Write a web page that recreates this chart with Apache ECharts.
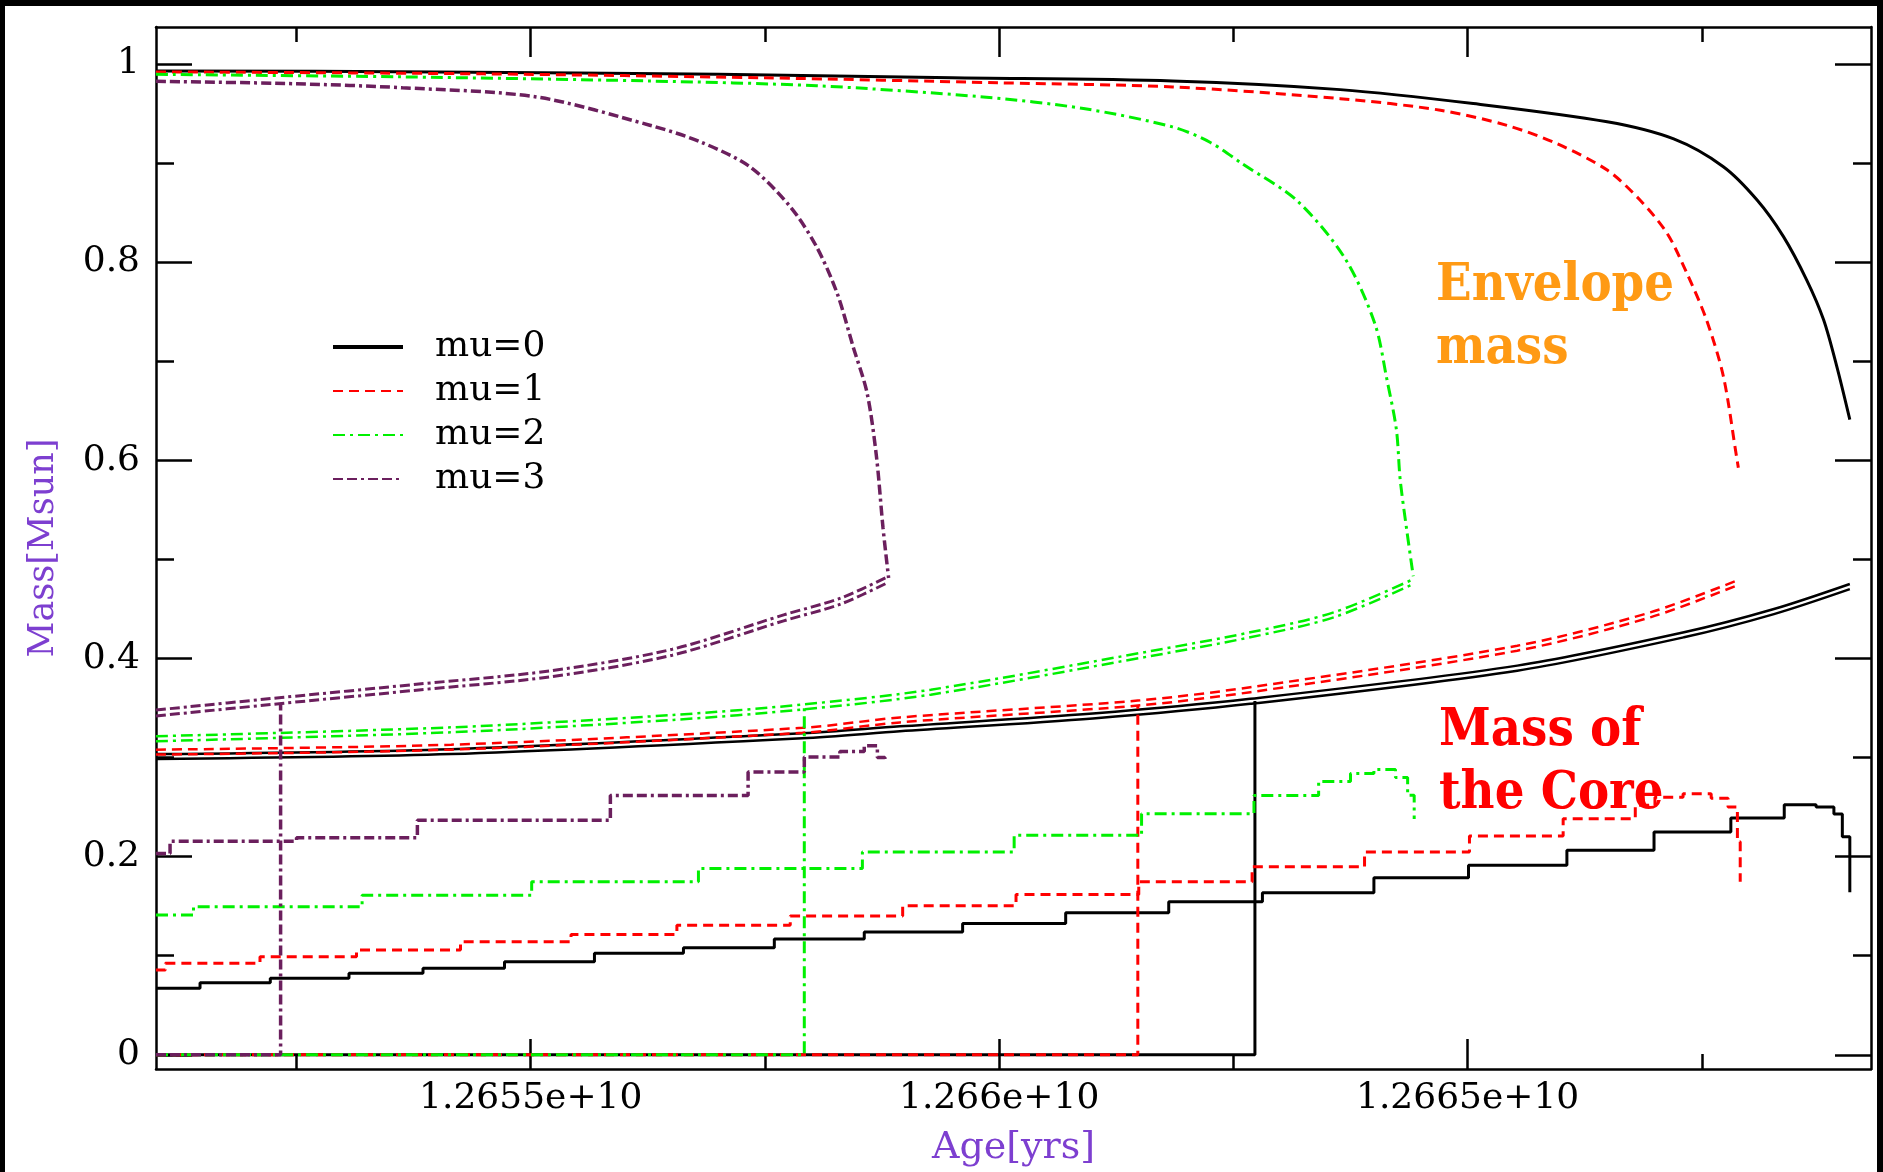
<!DOCTYPE html>
<html>
<head>
<meta charset="utf-8">
<title>Envelope and core mass vs age</title>
<script src="https://cdn.jsdelivr.net/npm/echarts@6.0.0/dist/echarts.min.js"></script>
<style>
	html, body { margin: 0; padding: 0; background: #000; width: 1883px; height: 1172px; overflow: hidden; }
	#massChart { position: absolute; left: 5px; top: 6px; width: 1872px; height: 1166px; background: #fff; }
</style>
</head>
<body>
<div id="massChart"></div>
<script>
// ages in Myr, masses in Msun
var legendNames = ['mu=0', 'mu=1', 'mu=2', 'mu=3'];
var xMajorTicks = [12655, 12660, 12665];
var xMinorTicks = [12652.5, 12657.5, 12662.5, 12667.5];
var yMajorTicks = [0, 0.2, 0.4, 0.6, 0.8, 1];
var yMinorTicks = [0.1, 0.3, 0.5, 0.7, 0.9];

var mu0Envelope = [[12651.0,0.993],[12654.0,0.992],[12657.0,0.9895],[12659.5,0.986],[12661.85,0.9828],[12663.64,0.9741],[12665.06,0.960],[12666.49,0.9416],[12667.20,0.9243],[12667.73,0.8963],[12668.09,0.8627],[12668.37,0.826],[12668.62,0.7819],[12668.80,0.7418],[12668.94,0.695],[12669.08,0.641]];
var mu1Envelope = [[12651.0,0.992],[12654.5,0.990],[12657.5,0.986],[12660.0,0.981],[12661.85,0.9768],[12663.64,0.965],[12664.71,0.9533],[12665.42,0.938],[12665.95,0.9197],[12666.49,0.8929],[12666.84,0.8627],[12667.13,0.829],[12667.34,0.7889],[12667.55,0.7418],[12667.73,0.6848],[12667.87,0.6042],[12667.89,0.5925]];
var mu2Envelope = [[12651.0,0.9895],[12653.6,0.987],[12656.27,0.9828],[12658.05,0.978],[12659.83,0.9667],[12660.90,0.955],[12661.85,0.9365],[12662.25,0.921],[12662.60,0.899],[12663.18,0.862],[12663.69,0.804],[12664.01,0.738],[12664.14,0.681],[12664.24,0.631],[12664.28,0.581],[12664.35,0.530],[12664.42,0.483]];
var mu3Envelope = [[12651.0,0.9825],[12652.50,0.980],[12653.63,0.976],[12655.06,0.9667],[12656.27,0.9382],[12656.81,0.9214],[12657.34,0.8962],[12657.77,0.8559],[12658.05,0.8157],[12658.27,0.7687],[12658.44,0.715],[12658.59,0.668],[12658.69,0.604],[12658.76,0.532],[12658.82,0.4813]];

var mu0Upper = [[12651.0,0.3035],[12654.15,0.3085],[12657.9,0.3245],[12658.94,0.3315],[12661.0,0.3445],[12662.68,0.3593],[12665.53,0.3928],[12667.31,0.4264],[12668.27,0.4499],[12669.08,0.4752]];
var mu0Lower = [[12651.0,0.2985],[12654.15,0.3035],[12657.9,0.3195],[12658.94,0.3265],[12661.0,0.3395],[12662.68,0.3542],[12665.53,0.3877],[12667.31,0.4214],[12668.27,0.4448],[12669.08,0.4700]];
var mu1Upper = [[12651.0,0.308],[12654.15,0.313],[12657.9,0.330],[12658.94,0.3405],[12661.48,0.3575],[12662.68,0.371],[12665.53,0.4129],[12666.95,0.4465],[12667.91,0.480]];
var mu1Lower = [[12651.0,0.303],[12654.15,0.308],[12657.9,0.325],[12658.94,0.3355],[12661.48,0.3525],[12662.68,0.366],[12665.53,0.4079],[12666.95,0.4415],[12667.91,0.475]];
var mu2Upper = [[12651.0,0.3215],[12654.15,0.3305],[12656.52,0.343],[12657.9,0.3535],[12659.27,0.3685],[12661.62,0.4075],[12662.68,0.4264],[12663.57,0.4465],[12664.42,0.480]];
var mu2Lower = [[12651.0,0.3165],[12654.15,0.3255],[12656.52,0.338],[12657.9,0.3485],[12659.27,0.3635],[12661.62,0.4025],[12662.68,0.4214],[12663.57,0.4415],[12664.42,0.475]];
var mu3Upper = [[12651.0,0.348],[12652.34,0.3606],[12653.78,0.374],[12655.20,0.3874],[12656.51,0.4093],[12657.70,0.444],[12658.31,0.461],[12658.82,0.483]];
var mu3Lower = [[12651.0,0.342],[12652.34,0.3546],[12653.78,0.368],[12655.20,0.3814],[12656.51,0.4033],[12657.70,0.438],[12658.31,0.455],[12658.82,0.477]];

var mu0Core = [[12651.0,0.0672],[12651.47,0.0728],[12652.22,0.0773],[12653.06,0.0824],[12653.85,0.0873],[12654.72,0.094],[12655.68,0.1024],[12656.63,0.108],[12657.60,0.117],[12658.56,0.124],[12659.61,0.1326],[12660.71,0.1434],[12661.81,0.1545],[12662.81,0.1635],[12664.00,0.1786],[12665.01,0.1913],[12666.06,0.2064],[12666.99,0.2249],[12667.81,0.2389],[12668.38,0.2524],[12668.72,0.250],[12668.91,0.243],[12669.00,0.220],[12669.08,0.164]];
var mu1Core = [[12651.0,0.0856],[12651.1,0.0923],[12652.11,0.099],[12653.14,0.1058],[12654.25,0.1142],[12655.43,0.1215],[12656.56,0.1309],[12657.77,0.140],[12658.97,0.1505],[12660.18,0.1618],[12661.49,0.1746],[12662.70,0.1897],[12663.90,0.2048],[12665.02,0.2209],[12666.02,0.2383],[12666.79,0.252],[12667.0,0.260],[12667.3,0.2635],[12667.6,0.259],[12667.78,0.250],[12667.88,0.215],[12667.91,0.1746]];
var mu2Core = [[12651.0,0.141],[12651.40,0.1494],[12653.20,0.161],[12655.01,0.1746],[12656.79,0.188],[12658.54,0.2048],[12660.16,0.2215],[12661.52,0.2433],[12662.72,0.2618],[12663.41,0.2759],[12663.75,0.284],[12664.0,0.288],[12664.23,0.280],[12664.36,0.262],[12664.43,0.238]];
var mu3Core = [[12651.0,0.2031],[12651.15,0.2155],[12652.5,0.219],[12653.79,0.2367],[12655.85,0.2618],[12657.32,0.2854],[12657.92,0.3005],[12658.3,0.306],[12658.56,0.312],[12658.7,0.300],[12658.78,0.297]];

var mu0Jump = [[12651.0,0],[12662.73,0],[12662.73,0.357]];
var mu1Jump = [[12651.0,0],[12661.48,0],[12661.48,0.353]];
var mu2Jump = [[12651.0,0],[12657.92,0],[12657.92,0.353]];
var mu3Jump = [[12651.0,0],[12652.33,0],[12652.33,0.355]];

var serif = 'DejaVu Serif';
var styles = [
	{color: '#000000', type: 'solid', width: 3},
	{color: '#ff0000', type: [10, 6], width: 3},
	{color: '#00f000', type: [12, 5, 3, 5], width: 3},
	{color: '#6b1f5d', type: [10, 4, 10, 4, 3, 4], width: 3.5}
];
var groups = [
	[mu0Envelope, mu0Upper, mu0Lower, mu0Core, mu0Jump],
	[mu1Envelope, mu1Upper, mu1Lower, mu1Core, mu1Jump],
	[mu2Envelope, mu2Upper, mu2Lower, mu2Core, mu2Jump],
	[mu3Envelope, mu3Upper, mu3Lower, mu3Core, mu3Jump]
];

// kind: 0 envelope, 1/2 double line, 3 core steps, 4 zero-then-jump
function lineSeries(name, data, st, kind) {
	var curved = kind < 3;
	return {
		name: name,
		type: 'line',
		data: data,
		symbol: 'none',
		step: kind === 3 ? 'end' : false,
		smooth: curved ? 0.3 : false,
		silent: true,
		animation: false,
		lineStyle: {color: st.color, type: st.type, width: kind === 1 || kind === 2 ? st.width - 0.5 : st.width},
		itemStyle: {color: st.color}
	};
}

var seriesList = [];
groups.forEach(function (g, i) {
	g.forEach(function (d, j) {
		seriesList.push(lineSeries(legendNames[i], d, styles[i], j));
	});
});

function xAxisFor(pos, ticks, len, showLine, withLabels) {
	return {
		type: 'value',
		position: pos,
		min: 12651.0,
		max: 12669.306,
		axisLine: {show: showLine, onZero: false, lineStyle: {color: '#000', width: 2.5}},
		axisTick: {inside: true, length: len, customValues: ticks, lineStyle: {color: '#000', width: 2.5}},
		axisLabel: {
			show: withLabels,
			customValues: ticks,
			margin: 12,
			color: '#000',
			fontFamily: serif,
			fontSize: 36,
			formatter: function (v) { return (v * 1e6).toExponential(); }
		},
		splitLine: {show: false}
	};
}

function yAxisFor(pos, ticks, len, showLine, withLabels) {
	return {
		type: 'value',
		position: pos,
		min: -0.0143,
		max: 1.0373,
		axisLine: {show: showLine, onZero: false, lineStyle: {color: '#000', width: 2.5}},
		axisTick: {inside: true, length: len, customValues: ticks, lineStyle: {color: '#000', width: 2.5}},
		axisLabel: {
			show: withLabels,
			customValues: ticks,
			margin: 16,
			color: '#000',
			fontFamily: serif,
			fontSize: 36,
			formatter: function (v) { return String(Math.round(v * 10) / 10); }
		},
		splitLine: {show: false}
	};
}

var xAxes = [
	xAxisFor('bottom', xMajorTicks, 30, true, true),
	xAxisFor('bottom', xMinorTicks, 15, false, false),
	xAxisFor('top', xMajorTicks, 30, true, false),
	xAxisFor('top', xMinorTicks, 15, false, false)
];
xAxes[0].name = 'Age[yrs]';
xAxes[0].nameLocation = 'middle';
xAxes[0].nameGap = 60;
xAxes[0].nameTextStyle = {color: '#7d3fd0', fontFamily: serif, fontSize: 38};

var yAxes = [
	yAxisFor('left', yMajorTicks, 36, true, true),
	yAxisFor('left', yMinorTicks, 18, false, false),
	yAxisFor('right', yMajorTicks, 36, true, false),
	yAxisFor('right', yMinorTicks, 18, false, false)
];
yAxes[0].name = 'Mass[Msun]';
yAxes[0].nameLocation = 'middle';
yAxes[0].nameRotate = 90;
yAxes[0].nameGap = 95;
yAxes[0].nameTextStyle = {color: '#7d3fd0', fontFamily: serif, fontSize: 35};

var labelFont = 'bold 52px "DejaVu Serif Condensed", "DejaVu Serif"';

var option = {
	backgroundColor: '#fff',
	animation: false,
	grid: {left: 151, top: 21, width: 1715, height: 1044},
	xAxis: xAxes,
	yAxis: yAxes,
	legend: {
		orient: 'vertical',
		left: 321,
		top: 318,
		itemWidth: 70,
		itemHeight: 20,
		itemGap: 8,
		selectedMode: false,
		itemStyle: {opacity: 0},
		data: [
			{name: 'mu=0', lineStyle: {width: 4}},
			{name: 'mu=1'},
			{name: 'mu=2'},
			{name: 'mu=3'}
		],
		textStyle: {color: '#000', fontFamily: serif, fontSize: 36, padding: [0, 0, 0, 27]}
	},
	graphic: [
		{type: 'text', x: 1431, y: 249, silent: true,
			style: {text: 'Envelope\nmass', fill: '#ff9a14', font: labelFont, lineHeight: 63, verticalAlign: 'top'}},
		{type: 'text', x: 1434, y: 694, silent: true,
			style: {text: 'Mass of\nthe Core', fill: '#ff0000', font: labelFont, lineHeight: 63, verticalAlign: 'top'}}
	],
	series: seriesList
};

var massChart = echarts.init(document.getElementById('massChart'));
massChart.setOption(option);
</script>
</body>
</html>
